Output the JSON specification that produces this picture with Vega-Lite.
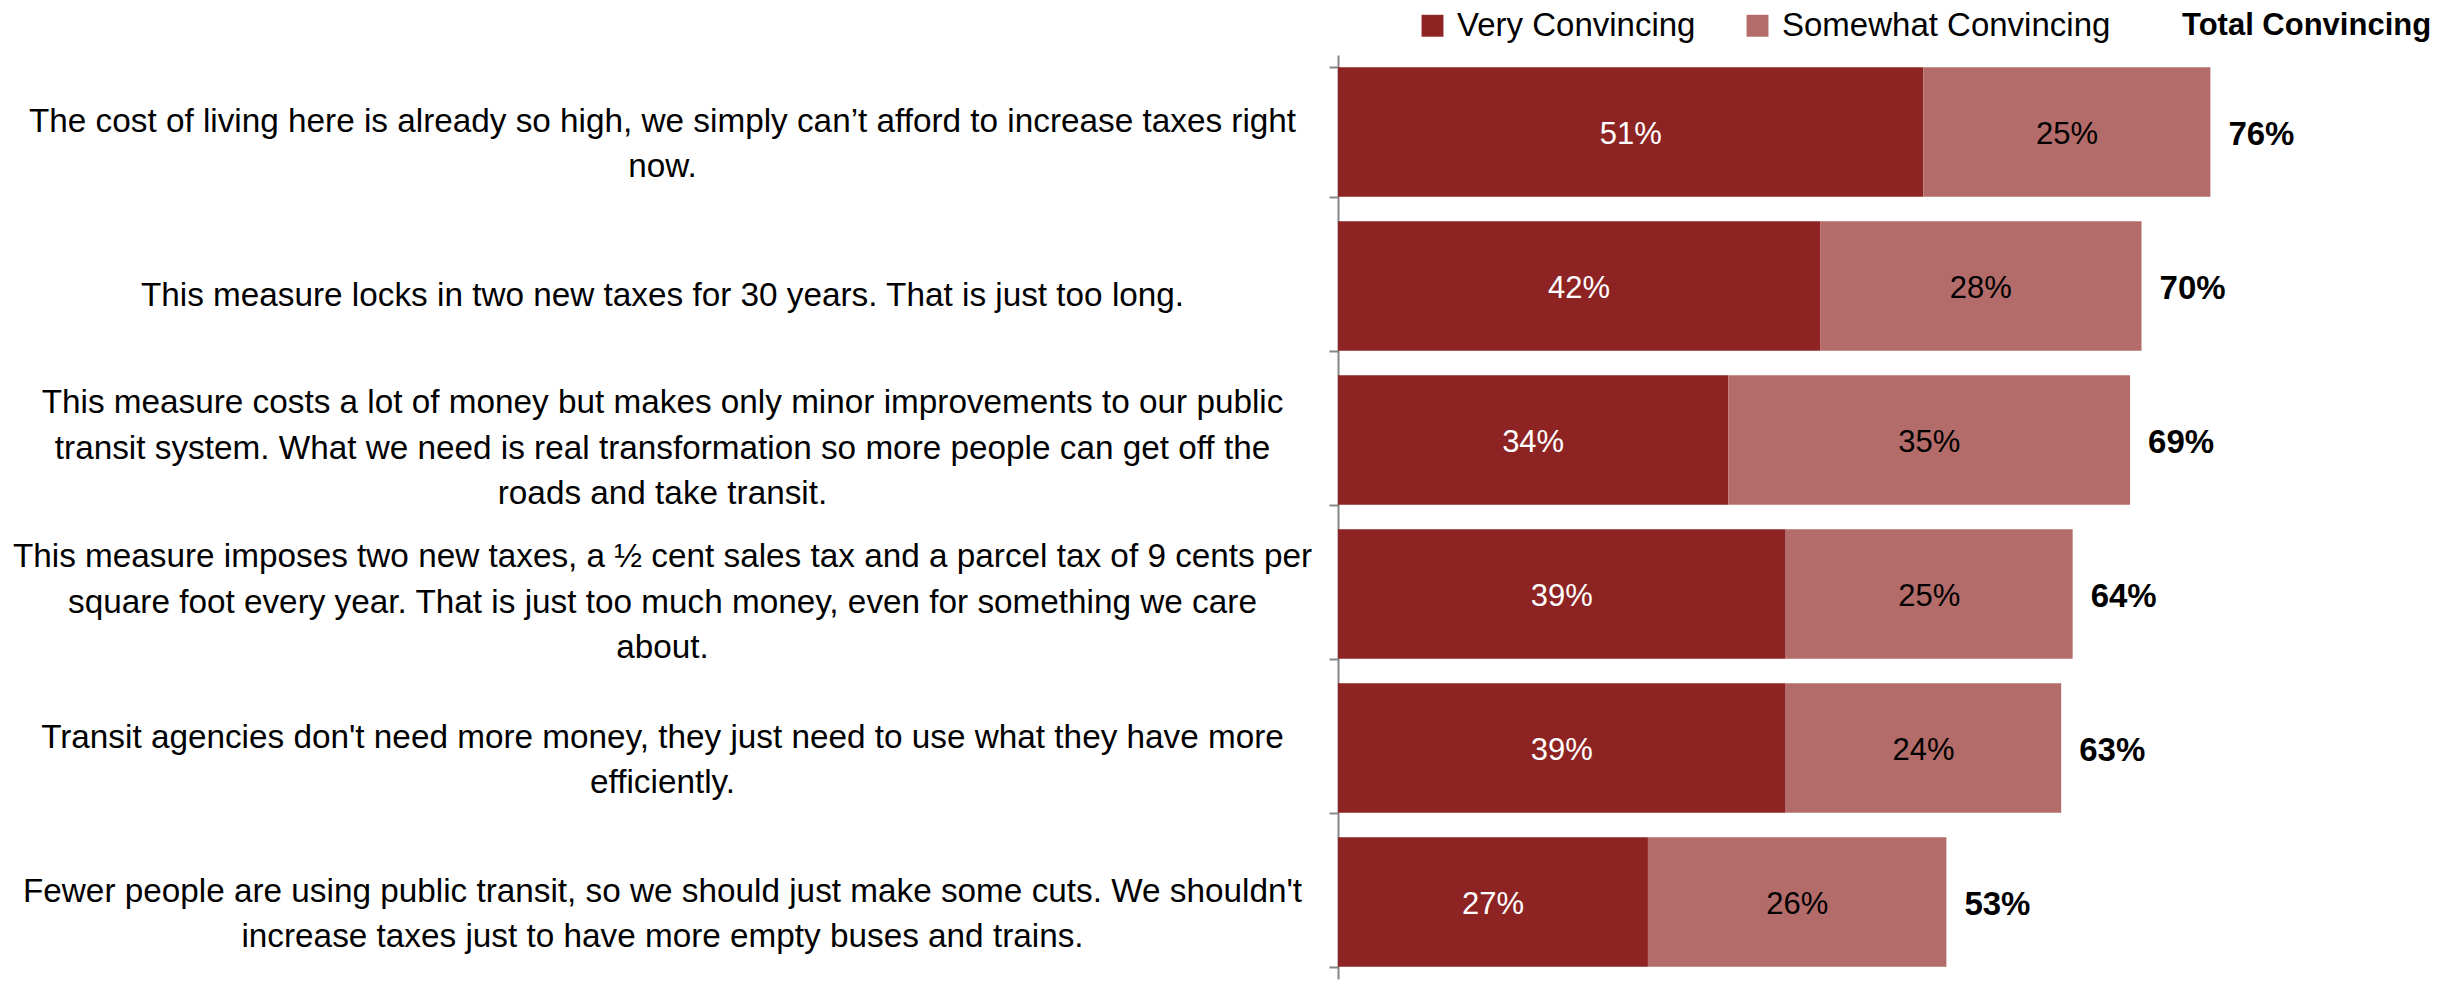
{
  "$schema": "https://vega.github.io/schema/vega-lite/v6.json",
  "autosize": {"type": "none"},
  "width": 1102,
  "height": 924,
  "padding": {"left": 1338, "top": 55, "right": 23, "bottom": 2},
  "background": "white",
  "config": {
    "view": {"stroke": null},
    "font": "Liberation Sans",
    "text": {"font": "Liberation Sans"}
  },
  "datasets": {
    "segments": [
      {"statement": "The cost of living here is already so high, we simply can’t afford to increase taxes right\nnow.", "type": "Very Convincing", "value": 0.51},
      {"statement": "The cost of living here is already so high, we simply can’t afford to increase taxes right\nnow.", "type": "Somewhat Convincing", "value": 0.25},
      {"statement": "This measure locks in two new taxes for 30 years. That is just too long.", "type": "Very Convincing", "value": 0.42},
      {"statement": "This measure locks in two new taxes for 30 years. That is just too long.", "type": "Somewhat Convincing", "value": 0.28},
      {"statement": "This measure costs a lot of money but makes only minor improvements to our public\ntransit system. What we need is real transformation so more people can get off the\nroads and take transit.", "type": "Very Convincing", "value": 0.34},
      {"statement": "This measure costs a lot of money but makes only minor improvements to our public\ntransit system. What we need is real transformation so more people can get off the\nroads and take transit.", "type": "Somewhat Convincing", "value": 0.35},
      {"statement": "This measure imposes two new taxes, a ½ cent sales tax and a parcel tax of 9 cents per\nsquare foot every year. That is just too much money, even for something we care\nabout.", "type": "Very Convincing", "value": 0.39},
      {"statement": "This measure imposes two new taxes, a ½ cent sales tax and a parcel tax of 9 cents per\nsquare foot every year. That is just too much money, even for something we care\nabout.", "type": "Somewhat Convincing", "value": 0.25},
      {"statement": "Transit agencies don't need more money, they just need to use what they have more\nefficiently.", "type": "Very Convincing", "value": 0.39},
      {"statement": "Transit agencies don't need more money, they just need to use what they have more\nefficiently.", "type": "Somewhat Convincing", "value": 0.24},
      {"statement": "Fewer people are using public transit, so we should just make some cuts. We shouldn't\nincrease taxes just to have more empty buses and trains.", "type": "Very Convincing", "value": 0.27},
      {"statement": "Fewer people are using public transit, so we should just make some cuts. We shouldn't\nincrease taxes just to have more empty buses and trains.", "type": "Somewhat Convincing", "value": 0.26}
    ],
    "totals": [
      {"statement": "The cost of living here is already so high, we simply can’t afford to increase taxes right\nnow.", "total": 0.76},
      {"statement": "This measure locks in two new taxes for 30 years. That is just too long.", "total": 0.70},
      {"statement": "This measure costs a lot of money but makes only minor improvements to our public\ntransit system. What we need is real transformation so more people can get off the\nroads and take transit.", "total": 0.69},
      {"statement": "This measure imposes two new taxes, a ½ cent sales tax and a parcel tax of 9 cents per\nsquare foot every year. That is just too much money, even for something we care\nabout.", "total": 0.64},
      {"statement": "Transit agencies don't need more money, they just need to use what they have more\nefficiently.", "total": 0.63},
      {"statement": "Fewer people are using public transit, so we should just make some cuts. We shouldn't\nincrease taxes just to have more empty buses and trains.", "total": 0.53}
    ]
  },
  "encoding": {
    "y": {
      "field": "statement",
      "type": "nominal",
      "sort": null,
      "scale": {"paddingInner": 0.16, "paddingOuter": 0.08},
      "axis": {
        "title": null,
        "tickBand": "extent",
        "domainColor": "#868686",
        "domainWidth": 2,
        "tickColor": "#868686",
        "tickWidth": 2,
        "tickSize": 9,
        "labelExpr": "split(datum.label, '\\n')",
        "labelAlign": "center",
        "labelBaseline": "middle",
        "labelPadding": 667,
        "labelLimit": 0,
        "labelFontSize": 33.3,
        "labelLineHeight": 45.5,
        "labelColor": "black",
        "labelFont": "Liberation Sans",
        "labelOffset": {"expr": "(length(split(datum.label, '\\n')) == 2 ? 12 : (length(split(datum.label, '\\n')) == 3 ? 8 : 9)) - (length(split(datum.label, '\\n')) - 1) * 22.75"}
      }
    }
  },
  "layer": [
    {
      "data": {"name": "segments"},
      "mark": {"type": "bar"},
      "encoding": {
        "x": {"field": "value", "type": "quantitative", "stack": "zero", "scale": {"domain": [0, 0.96], "nice": false}, "axis": null},
        "order": {"field": "type", "sort": "descending"},
        "color": {
          "field": "type",
          "type": "nominal",
          "scale": {"domain": ["Very Convincing", "Somewhat Convincing"], "range": ["#8E2323", "#B36C69"]},
          "legend": {
            "orient": "none",
            "legendX": 78,
            "legendY": -46,
            "direction": "horizontal",
            "title": "Total Convincing",
            "titleOrient": "right",
            "titleFontWeight": "bold",
            "titleFontSize": 31,
            "titleColor": "black",
            "titleFont": "Liberation Sans",
            "titlePadding": 72,
            "titleBaseline": "middle",
            "titleLimit": 0,
            "symbolType": "square",
            "symbolSize": 480,
            "symbolStrokeWidth": 0,
            "labelFontSize": 33,
            "labelColor": "black",
            "labelFont": "Liberation Sans",
            "labelOffset": 8,
            "columnPadding": 45,
            "labelLimit": 0
          }
        }
      }
    },
    {
      "data": {"name": "segments"},
      "mark": {"type": "text", "fontSize": 31, "baseline": "middle", "align": "center", "dy": 3},
      "encoding": {
        "x": {"field": "value", "type": "quantitative", "stack": "zero", "bandPosition": 0.5},
        "order": {"field": "type", "sort": "descending"},
        "text": {"field": "value", "type": "quantitative", "format": ".0%"},
        "color": {"condition": {"test": "datum.type == 'Very Convincing'", "value": "white"}, "value": "black"}
      }
    },
    {
      "data": {"name": "totals"},
      "mark": {"type": "text", "fontSize": 33, "fontWeight": "bold", "baseline": "middle", "align": "left", "dx": 18, "dy": 3, "color": "black"},
      "encoding": {
        "x": {"field": "total", "type": "quantitative"},
        "text": {"field": "total", "type": "quantitative", "format": ".0%"}
      }
    }
  ]
}
